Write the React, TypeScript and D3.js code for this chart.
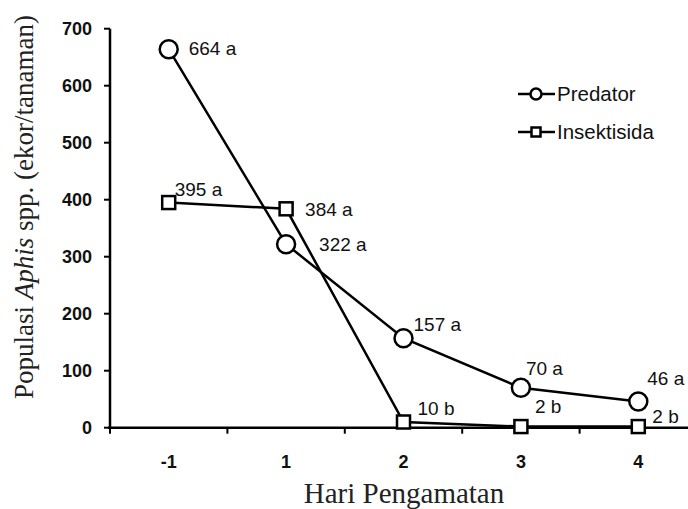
import React from "react";
import * as d3 from "d3";

const categories = ["-1", "1", "2", "3", "4"];
const predator = [664, 322, 157, 70, 46];
const insektisida = [395, 384, 10, 2, 2];
const predatorLabels = ["664 a", "322 a", "157 a", "70 a", "46 a"];
const insektisidaLabels = ["395 a", "384 a", "10 b", "2 b", "2 b"];
const yTicks = [0, 100, 200, 300, 400, 500, 600, 700];

// label offsets (dx, dy) relative to marker, in pixels
const predOffsets: [number, number][] = [[20, 6], [33, 7], [10, -7], [5, -13], [9, -16]];
const insOffsets: [number, number][] = [[6, -7], [19, 7], [14, -7], [14, -14], [14, -4]];

export default function App() {
  const W = 688, H = 509;
  const x = d3.scaleBand<string>().domain(categories).range([110, 697]).padding(0);
  const y = d3.scaleLinear().domain([0, 700]).range([427.7, 28.7]);
  const cx = (c: string) => (x(c) as number) + x.bandwidth() / 2;

  const line = d3.line<number>().x((_, i) => cx(categories[i])).y((d) => y(d));

  const sans = "'Liberation Sans', Arial, sans-serif";
  const serif = "'Liberation Serif', 'Times New Roman', serif";
  const sq = 13;

  return (
    <svg width={W} height={H} style={{ position: "absolute", left: 0, top: 0, background: "#fff" }}>
      <rect x={0} y={0} width={W} height={H} fill="#fff" />
      {/* y axis */}
      <line x1={110} x2={110} y1={y(700)} y2={y(0)} stroke="#000" strokeWidth={2.5} />
      {yTicks.map((t) => (
        <g key={t}>
          <line x1={104} x2={110} y1={y(t)} y2={y(t)} stroke="#000" strokeWidth={2} />
          <text x={92} y={y(t) + 6.5} textAnchor="end" fontFamily={sans} fontWeight="bold" fontSize={18} fill="#111">
            {t}
          </text>
        </g>
      ))}
      {/* x axis */}
      <line x1={108} x2={W} y1={y(0)} y2={y(0)} stroke="#000" strokeWidth={2.5} />
      {categories.map((c) => (
        <line key={"t" + c} x1={x(c) as number} x2={x(c) as number} y1={y(0)} y2={y(0) + 6} stroke="#000" strokeWidth={2} />
      ))}
      {categories.map((c) => (
        <text key={"l" + c} x={cx(c)} y={468} textAnchor="middle" fontFamily={sans} fontWeight="bold" fontSize={18} fill="#111">
          {c}
        </text>
      ))}
      <text x={404} y={503} textAnchor="middle" fontFamily={serif} fontSize={29} fill="#222">
        Hari Pengamatan
      </text>
      <text transform={`translate(33,${207}) rotate(-90)`} textAnchor="middle" fontFamily={serif} fontSize={27} fill="#222">
        Populasi <tspan fontStyle="italic">Aphis</tspan> spp. (ekor/tanaman)
      </text>

      {/* lines */}
      <path d={line(insektisida) as string} fill="none" stroke="#000" strokeWidth={2.5} />
      <path d={line(predator) as string} fill="none" stroke="#000" strokeWidth={2.5} />

      {/* markers */}
      {insektisida.map((v, i) => (
        <rect key={"s" + i} x={cx(categories[i]) - sq / 2} y={y(v) - sq / 2} width={sq} height={sq} fill="#fff" stroke="#000" strokeWidth={2.5} />
      ))}
      {predator.map((v, i) => (
        <circle key={"c" + i} cx={cx(categories[i])} cy={y(v)} r={9} fill="#fff" stroke="#000" strokeWidth={2.5} />
      ))}

      {/* labels */}
      {predator.map((v, i) => (
        <text key={"pl" + i} x={cx(categories[i]) + predOffsets[i][0]} y={y(v) + predOffsets[i][1]} fontFamily={sans} fontSize={19} fill="#111">
          {predatorLabels[i]}
        </text>
      ))}
      {insektisida.map((v, i) => (
        <text key={"il" + i} x={cx(categories[i]) + insOffsets[i][0]} y={y(v) + insOffsets[i][1]} fontFamily={sans} fontSize={19} fill="#111">
          {insektisidaLabels[i]}
        </text>
      ))}

      {/* legend */}
      <g>
        <line x1={518} x2={555} y1={94} y2={94} stroke="#000" strokeWidth={2.5} />
        <circle cx={536} cy={94} r={5.5} fill="#fff" stroke="#000" strokeWidth={2.5} />
        <text x={557} y={101} fontFamily={sans} fontSize={20.5} fill="#111">Predator</text>
        <line x1={518} x2={555} y1={132} y2={132} stroke="#000" strokeWidth={2.5} />
        <rect x={531.5} y={127.5} width={9} height={9} fill="#fff" stroke="#000" strokeWidth={2.5} />
        <text x={557} y={139} fontFamily={sans} fontSize={20.5} fill="#111">Insektisida</text>
      </g>
    </svg>
  );
}
